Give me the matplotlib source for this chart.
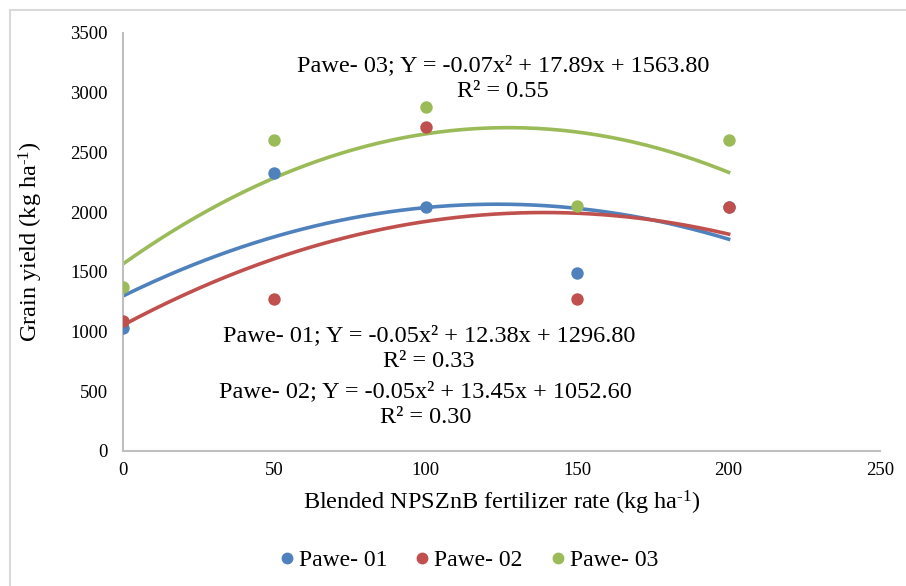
import numpy as np
import matplotlib
matplotlib.use("Agg")
import matplotlib.pyplot as plt
from matplotlib.patches import Rectangle
from matplotlib.lines import Line2D

plt.rcParams["font.family"] = ["Liberation Serif", "DejaVu Serif"]
plt.rcParams["mathtext.fontset"] = "custom"
plt.rcParams["mathtext.rm"] = "Liberation Serif"
plt.rcParams["mathtext.default"] = "regular"

# fertilizer rate (kg/ha) and grain yield (kg/ha)
rates = [0, 50, 100, 150, 200]
pawe01 = [1030, 2328, 2043, 1491, 2043]
pawe02 = [1090, 1273, 2713, 1273, 2043]
pawe03 = [1370, 2605, 2881, 2052, 2605]

names = ["Pawe- 01", "Pawe- 02", "Pawe- 03"]
colors = ["#4F81BD", "#C0504D", "#9BBB59"]
equations = [
    "Pawe- 01; Y = -0.05x² + 12.38x + 1296.80\nR² = 0.33",
    "Pawe- 02; Y = -0.05x² + 13.45x + 1052.60\nR² = 0.30",
    "Pawe- 03; Y = -0.07x² + 17.89x + 1563.80\nR² = 0.55",
]

fig = plt.figure(figsize=(9.06, 5.86), dpi=100)
ax = fig.add_axes([0.1358, 0.2304, 0.8355, 0.7133])

# outer chart border (only top/left edges visible in the reference)
fig.patches.append(Rectangle((10 / 906, -0.1), 1.2, (586 - 10) / 586 + 0.1,
                             transform=fig.transFigure, fill=False,
                             edgecolor="#D9D9D9", linewidth=1.5))

# quadratic trend lines fitted to each variety
x = np.array(rates)
xs = np.linspace(0, 200, 200)
for ys, c in zip([pawe01, pawe02, pawe03], colors):
    coef = np.polyfit(x, ys, 2)
    ax.plot(xs, np.polyval(coef, xs), color=c, linewidth=2.6, zorder=2)
for ys, c in zip([pawe01, pawe02, pawe03], colors):
    ax.scatter(x, ys, s=80, color=c, zorder=3, linewidths=0)

ax.set_xlim(0, 250)
ax.set_ylim(0, 3500)
ax.set_xticks(range(0, 251, 50))
ax.set_yticks(range(0, 3501, 500))
ax.tick_params(length=0, labelsize=13.5, colors="#000000")
ax.tick_params(axis="x", pad=8)
ax.tick_params(axis="y", pad=11)
for s in ["top", "right"]:
    ax.spines[s].set_visible(False)
for s in ["left", "bottom"]:
    ax.spines[s].set_color("#BFBFBF")
    ax.spines[s].set_linewidth(1.5)

ax.set_xlabel(r"Blended NPSZnB fertilizer rate (kg ha$^{\text{-1}}$)", fontsize=17.5, labelpad=7)
ax.set_ylabel(r"Grain yield (kg ha$^{\text{-1}}$)", fontsize=17.5, labelpad=18)

ax.text(125.5, 3120, equations[2], ha="center", va="center", fontsize=17.5, linespacing=1.3)
ax.text(101, 854, equations[0], ha="center", va="center", fontsize=17.5, linespacing=1.3)
ax.text(100, 389, equations[1], ha="center", va="center", fontsize=17.5, linespacing=1.3)

handles = [Line2D([], [], marker="o", linestyle="none", color=c, markersize=7.5)
           for c in colors]
fig.legend(handles, names, loc="center", bbox_to_anchor=(0.515, 1 - 560 / 586),
           ncol=3, frameon=False, fontsize=17, handletextpad=0.0,
           columnspacing=1.0, handlelength=1.0)

fig.savefig("out.png", dpi=100)
